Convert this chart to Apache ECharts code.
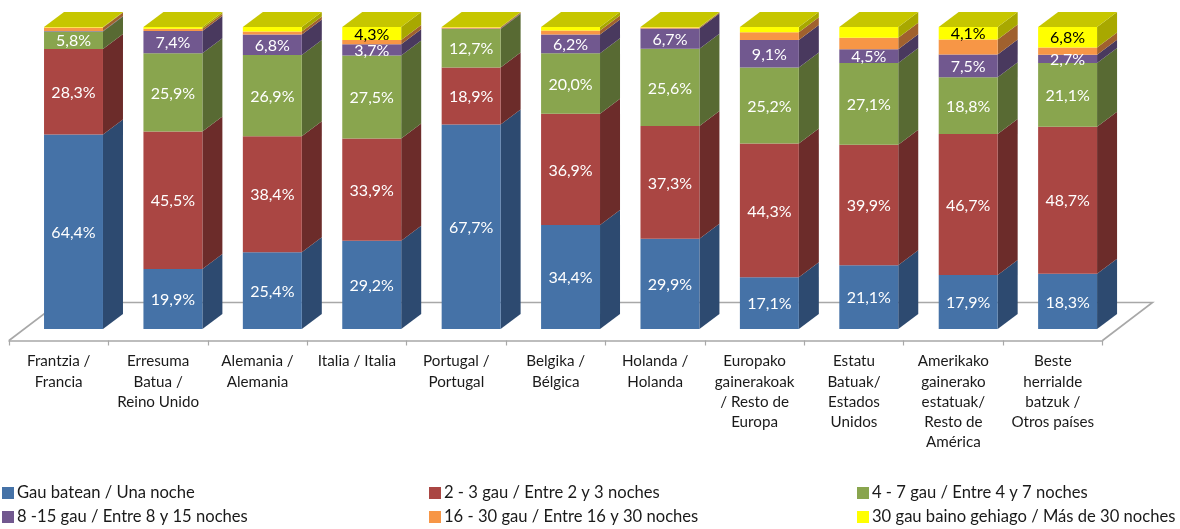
<!DOCTYPE html>
<html>
<head>
<meta charset="utf-8">
<style>html,body{margin:0;padding:0;background:#fff}#c{width:1180px;height:529px}</style>
<script src="https://cdn.jsdelivr.net/npm/echarts@6/dist/echarts.min.js"></script>
</head>
<body>
<div id="c"></div>
<script>
const categories = [
  'Frantzia /\nFrancia',
  'Erresuma\nBatua /\nReino Unido',
  'Alemania /\nAlemania',
  'Italia / Italia',
  'Portugal /\nPortugal',
  'Belgika /\nBélgica',
  'Holanda /\nHolanda',
  'Europako\ngainerakoak\n/ Resto de\nEuropa',
  'Estatu\nBatuak/\nEstados\nUnidos',
  'Amerikako\ngainerako\nestatuak/\nResto de\nAmérica',
  'Beste\nherrialde\nbatzuk /\nOtros países'
];
const seriesNames = [
  'Gau batean / Una noche',
  '2 - 3 gau / Entre 2 y 3 noches',
  '4 - 7 gau / Entre 4 y 7 noches',
  '8 -15 gau / Entre 8 y 15 noches',
  '16 - 30 gau / Entre 16 y 30 noches',
  '30 gau baino gehiago / Más de 30 noches'
];
const unaNoche     = [64.4, 19.9, 25.4, 29.2, 67.7, 34.4, 29.9, 17.1, 21.1, 17.9, 18.3];
const dosTres      = [28.3, 45.5, 38.4, 33.9, 18.9, 36.9, 37.3, 44.3, 39.9, 46.7, 48.7];
const cuatroSiete  = [5.8, 25.9, 26.9, 27.5, 12.7, 20.0, 25.6, 25.2, 27.1, 18.8, 21.1];
const ochoQuince   = [0.2, 7.4, 6.8, 3.7, 0.2, 6.2, 6.7, 9.1, 4.5, 7.5, 2.7];
const dieciseisTreinta = [1.1, 0.7, 1.0, 1.4, 0.3, 1.3, 0.3, 2.6, 3.8, 5.0, 2.4];
const masTreinta   = [0.2, 0.6, 1.5, 4.3, 0.2, 1.2, 0.2, 1.7, 3.6, 4.1, 6.8];
const allValues = [unaNoche, dosTres, cuatroSiete, ochoQuince, dieciseisTreinta, masTreinta];

const frontColors = ['#4572a7', '#aa4643', '#89a54e', '#71588f', '#f79646', '#ffff00'];
const sideColors  = ['#2d4a70', '#6c2c2a', '#586a33', '#49395e', '#a0612e', '#a8a800'];
const topColor = '#c6c600';
const labelMin = [0, 0, 0, 1, 1000, 4];
const labelFill = ['#fff', '#fff', '#fff', '#fff', '#fff', '#000'];
const FONT = 'Lato';

const DX = 20, DY = -15;           // bar depth
const SX = 14.8, SY = -11.5;       // bar inset on the floor
const FX = 50, FY = -38;           // floor depth
const BAR = 0.593;                 // bar width / band width

function fmt(v) { return v.toFixed(1).replace('.', ',') + '%'; }

const stackBase = categories.map(() => 0);
const barSeries = allValues.map((vals, s) => {
  const data = vals.map((v, c) => {
    const row = [c, stackBase[c], stackBase[c] + v, v];
    stackBase[c] += v;
    return row;
  });
  return {
    type: 'custom',
    name: seriesNames[s],
    itemStyle: { color: frontColors[s] },
    z: 5,
    data: data,
    encode: { x: 0, y: [1, 2] },
    renderItem(params, api) {
      const c = api.value(0), lo = api.value(1), hi = api.value(2), v = api.value(3);
      const w = api.size([1, 0])[0] * BAR;
      const pLo = api.coord([c, lo]), pHi = api.coord([c, hi]);
      const x0 = pLo[0] + SX - w / 2, x1 = x0 + w;
      const y0 = pLo[1] + SY, y1 = pHi[1] + SY;
      const children = [
        { type: 'polygon', shape: { points: [[x1, y0], [x1 + DX, y0 + DY], [x1 + DX, y1 + DY], [x1, y1]] },
          style: { fill: sideColors[s] } },
        { type: 'rect', shape: { x: x0, y: y1, width: w, height: y0 - y1 },
          style: { fill: frontColors[s] } }
      ];
      if (s === allValues.length - 1) {
        children.push({ type: 'polygon',
          shape: { points: [[x0, y1], [x1, y1], [x1 + DX, y1 + DY], [x0 + DX, y1 + DY]] },
          style: { fill: topColor } });
      }
      if (v >= labelMin[s]) {
        children.push({ type: 'text', z2: 10,
          style: { x: (x0 + x1) / 2, y: (y0 + y1) / 2 + 1, text: fmt(v), fill: labelFill[s],
            font: '16px ' + FONT, align: 'center', verticalAlign: 'middle' } });
      }
      return { type: 'group', children };
    }
  };
});

const floorSeries = {
  type: 'custom',
  silent: true,
  z: 1,
  data: [[0, 0]],
  renderItem(params, api) {
    const r = params.coordSys;
    const b = r.y + r.height, l = r.x, rr = r.x + r.width;
    return { type: 'polyline',
      shape: { points: [[l, b], [l + FX, b + FY], [rr + FX, b + FY], [rr, b]] },
      style: { fill: 'none', stroke: '#a8a8a8', lineWidth: 1.6 } };
  }
};

function legendCol(left, names) {
  return { left: left, top: 484, padding: 0, orient: 'vertical', itemWidth: 12, itemHeight: 12, itemGap: 6,
    icon: 'rect', data: names, selectedMode: false,
    textStyle: { fontFamily: FONT, fontSize: 16.6, color: '#1a1a1a', padding: [0, 0, 0, -2], lineHeight: 18 } };
}

const chart = echarts.init(document.getElementById('c'), null, { renderer: 'canvas' });
chart.setOption({
  animation: false,
  backgroundColor: '#fff',
  grid: { left: 9, width: 1093.5, top: 38.5, height: 302, containLabel: false },
  legend: [
    legendCol(2, [seriesNames[0], seriesNames[3]]),
    legendCol(429, [seriesNames[1], seriesNames[4]]),
    legendCol(857, [seriesNames[2], seriesNames[5]])
  ],
  xAxis: {
    type: 'category',
    data: categories,
    boundaryGap: true,
    axisLine: { show: true, lineStyle: { color: '#a8a8a8', width: 1.6 } },
    axisTick: { show: true, alignWithLabel: false, length: 5, lineStyle: { color: '#a8a8a8', width: 1.2 } },
    axisLabel: { interval: 0, margin: 11, fontFamily: FONT, fontSize: 15.2, lineHeight: 20.2, color: '#1a1a1a', hideOverlap: false }
  },
  yAxis: { type: 'value', min: 0, max: 100, show: false },
  series: [floorSeries].concat(barSeries)
});
</script>
</body>
</html>
